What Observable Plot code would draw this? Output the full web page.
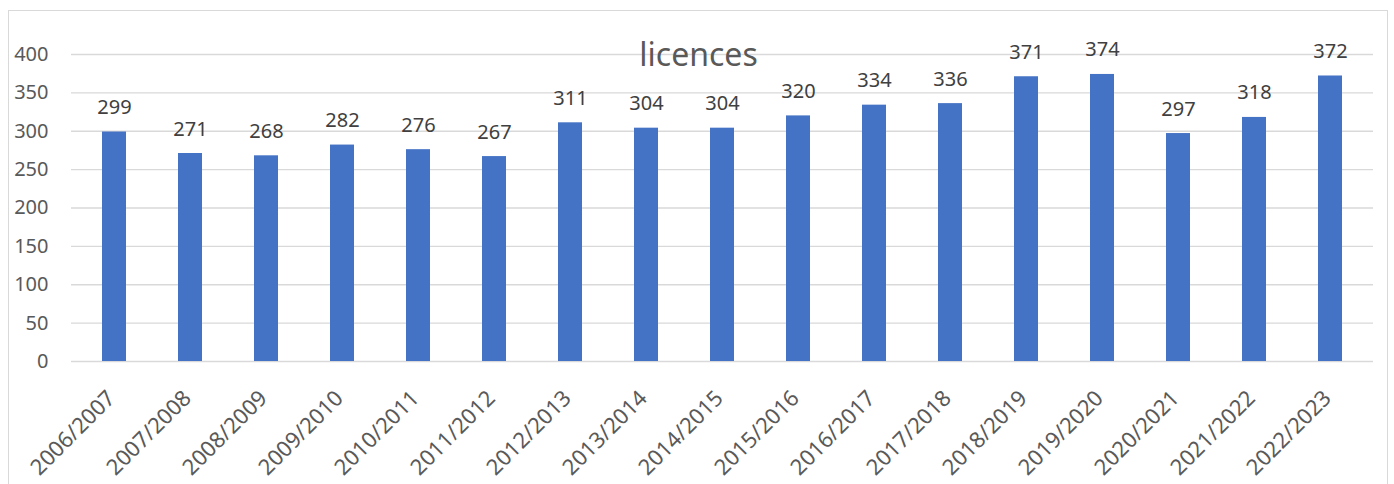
<!DOCTYPE html>
<html>
<head>
<meta charset="utf-8">
<script src="https://cdn.jsdelivr.net/npm/d3@7"></script>
<script src="https://cdn.jsdelivr.net/npm/@observablehq/plot@0.6"></script>
<style>
  html, body { margin: 0; padding: 0; background: #fff; overflow: hidden; }
  #wrap { position: relative; width: 1394px; height: 484px; }
  #border { position: absolute; left: 8px; top: 10px; width: 1380px; height: 500px; border: 1.3px solid #d9d9d9; box-sizing: border-box; }
  #title { position: absolute; left: 8px; width: 1381px; top: 38px; text-align: center; font-family: "Noto Sans", sans-serif; font-size: 32px; line-height: 1; color: #595959; }
  #chart { position: absolute; left: 0; top: 0; }
</style>
</head>
<body>
<div id="wrap">
  <div id="border"></div>
  <div id="chart"></div>
  <div id="title"></div>
</div>
<script>
const chartTitle = "licences";
const categories = ["2006/2007","2007/2008","2008/2009","2009/2010","2010/2011","2011/2012","2012/2013","2013/2014","2014/2015","2015/2016","2016/2017","2017/2018","2018/2019","2019/2020","2020/2021","2021/2022","2022/2023"];
const values = [299,271,268,282,276,267,311,304,304,320,334,336,371,374,297,318,372];
const yTicks = [0,50,100,150,200,250,300,350,400];

const data = categories.map((c, i) => ({season: c, value: values[i]}));

document.getElementById("title").textContent = chartTitle;

const chart = Plot.plot({
  width: 1394,
  height: 484,
  marginLeft: 71,
  marginRight: 21,
  marginTop: 54,
  marginBottom: 123,
  style: {fontFamily: "Noto Sans, sans-serif", fontSize: "20px", color: "#595959", background: "transparent", overflow: "visible"},
  x: {domain: categories, paddingInner: 0.69, paddingOuter: 0.345, axis: null},
  y: {domain: [0, 400], axis: null},
  marks: [
    Plot.gridY(yTicks, {stroke: "#d9d9d9", strokeOpacity: 1, strokeWidth: 1.3}),
    Plot.axisY(yTicks, {tickSize: 0, tickPadding: 23, fontSize: 20, fill: "#595959", label: null}),
    Plot.barY(data, {x: "season", y: "value", fill: "#4472C4"}),
    Plot.text(data, {x: "season", y: "value", text: d => String(d.value), dy: -18, lineAnchor: "bottom", fill: "#404040", fontSize: 20}),
    Plot.text(categories, {x: d => d, text: d => d, frameAnchor: "bottom", rotate: -45, textAnchor: "end", lineAnchor: "middle", dx: -3, dy: 33, fill: "#595959", fontSize: 22})
  ]
});
document.getElementById("chart").appendChild(chart);
</script>
</body>
</html>
